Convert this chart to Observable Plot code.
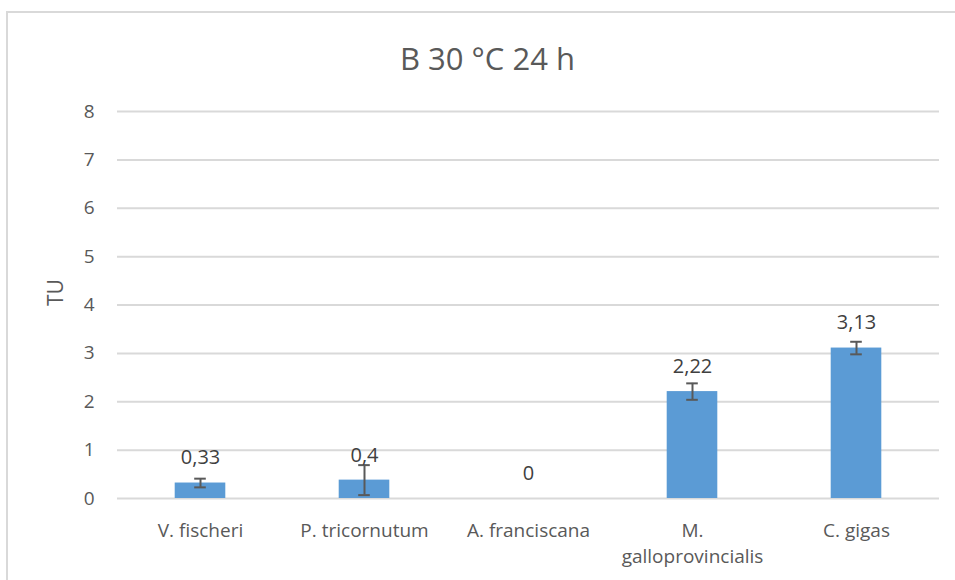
<!DOCTYPE html>
<html>
<head>
<meta charset="utf-8">
<script src="https://cdn.jsdelivr.net/npm/d3@7"></script>
<script src="https://cdn.jsdelivr.net/npm/@observablehq/plot@0.6"></script>
<style>
  html, body { margin: 0; padding: 0; background: #fff; overflow: hidden; }
  #wrap { position: relative; width: 955px; height: 580px; font-family: "Open Sans", sans-serif; }
  #frame { position: absolute; left: 6px; top: 11px; width: 980px; height: 620px; border: 2px solid #d9d9d9; box-sizing: border-box; }
  #title { position: absolute; left: 0; width: 975px; top: 36px; text-align: center; font-size: 31px; color: #595959; line-height: 44px; }
  #chart { position: absolute; left: 0; top: 0; }
</style>
</head>
<body>
<div id="wrap">
  <div id="frame"></div>
  <div id="chart"></div>
  <div id="title">B 30 °C 24 h</div>
</div>
<script>
const categories = ["V. fischeri", "P. tricornutum", "A. franciscana", "M. galloprovincialis", "C. gigas"];
const categoryLabels = ["V. fischeri", "P. tricornutum", "A. franciscana", "M.\ngalloprovincialis", "C. gigas"];
const values = [0.32, 0.38, 0, 2.21, 3.11];
const errors = [0.09, 0.31, 0, 0.17, 0.13];
const valueLabels = ["0,33", "0,4", "0", "2,22", "3,13"];
const yTicks = [0, 1, 2, 3, 4, 5, 6, 7, 8];

const data = categories.map((c, i) => ({
  cat: c, label: categoryLabels[i], value: values[i], err: errors[i], vlabel: valueLabels[i],
  lo: values[i] - errors[i], hi: values[i] + errors[i]
}));
const errData = data.filter(d => d.err > 0);

const step = (939 - 117) / categories.length;
const barInset = (step - 51) / 2;
const capInset = (step - 12) / 2;

const plot = Plot.plot({
  width: 955,
  height: 580,
  marginTop: 111,
  marginBottom: 82,
  marginLeft: 117,
  marginRight: 16,
  style: { fontFamily: "Open Sans, sans-serif", background: "transparent", overflow: "visible" },
  x: { domain: categories, padding: 0, axis: null },
  y: { domain: [0, 8], axis: null },
  marks: [
    Plot.ruleY(yTicks, { stroke: "#d9d9d9", strokeWidth: 2 }),
    Plot.axisY(yTicks, { tickSize: 0, tickPadding: 23, fontSize: 19, color: "#595959", label: null }),
    Plot.text(["TU"], { frameAnchor: "left", dx: -61, dy: 1, rotate: -90, fontSize: 21, fill: "#595959" }),
    Plot.barY(data, { x: "cat", y: "value", fill: "#5b9bd5", insetLeft: barInset, insetRight: barInset }),
    Plot.ruleX(errData, { x: "cat", y1: "lo", y2: "hi", stroke: "#595959", strokeWidth: 2 }),
    Plot.tickY(errData, { x: "cat", y: "lo", stroke: "#595959", strokeWidth: 2, insetLeft: capInset, insetRight: capInset }),
    Plot.tickY(errData, { x: "cat", y: "hi", stroke: "#595959", strokeWidth: 2, insetLeft: capInset, insetRight: capInset }),
    Plot.text(data, { x: "cat", y: "value", text: "vlabel", dy: -25, fontSize: 20, fill: "#404040" }),
    Plot.text(data, { x: "cat", text: "label", frameAnchor: "bottom", lineAnchor: "top", dy: 20, lineHeight: 1.38, fontSize: 19, fill: "#595959" })
  ]
});
document.getElementById("chart").appendChild(plot);
</script>
</body>
</html>
